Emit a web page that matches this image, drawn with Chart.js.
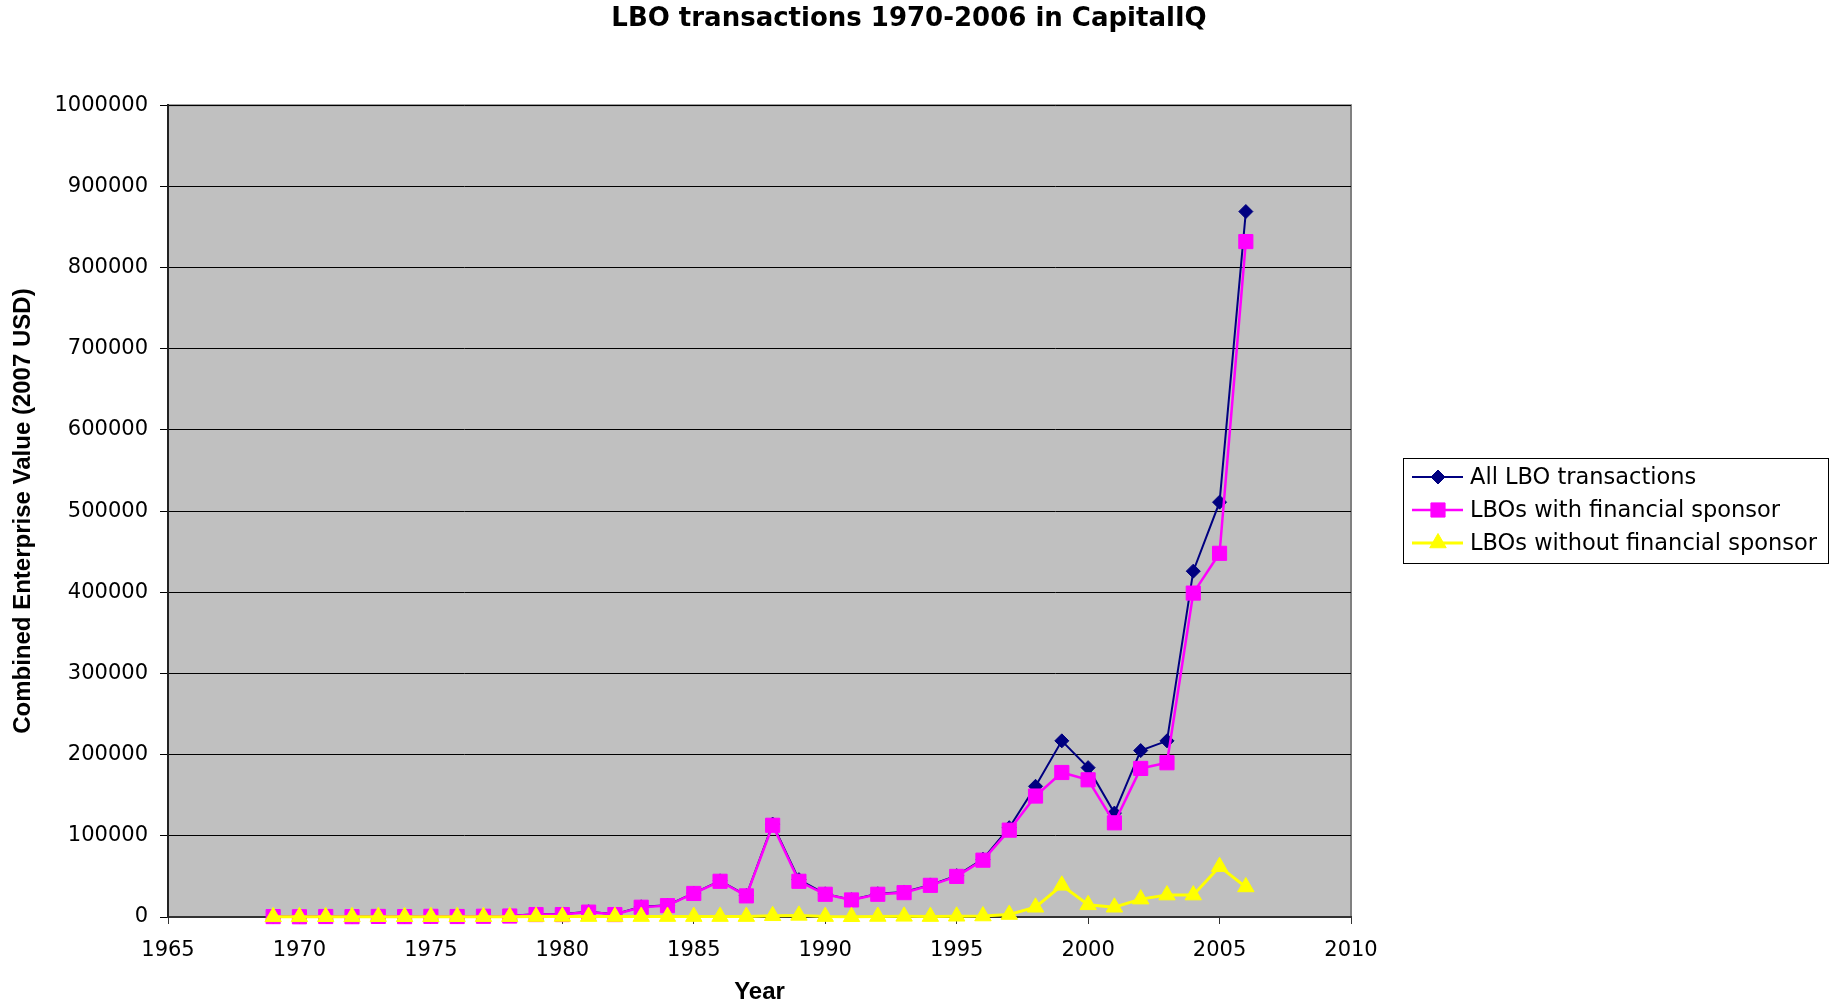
<!DOCTYPE html>
<html>
<head>
<meta charset="utf-8">
<title>LBO transactions 1970-2006 in CapitalIQ</title>
<script src="https://cdn.jsdelivr.net/npm/chart.js"></script>
<style>
    body { margin: 0; background: #fff; }
    #wrap { width: 1844px; height: 1008px; }
</style>
</head>
<body>
<div id="wrap"><canvas id="chart1" width="1844" height="1008"></canvas></div>
<script>
var years = [1969, 1970, 1971, 1972, 1973, 1974, 1975, 1976, 1977, 1978,
             1979, 1980, 1981, 1982, 1983, 1984, 1985, 1986, 1987, 1988,
             1989, 1990, 1991, 1992, 1993, 1994, 1995, 1996, 1997, 1998,
             1999, 2000, 2001, 2002, 2003, 2004, 2005, 2006];

var allLbo = [700, 500, 900, 600, 1000, 800, 1100, 900, 1300, 1600,
              3500, 3600, 6500, 3500, 12500, 14500, 29500, 44500, 26500, 114500,
              46000, 28500, 21300, 28600, 30800, 39500, 50900, 71200, 110000, 161000,
              217000, 184000, 128000, 205000, 217000, 426000, 511000, 869000];

var withSponsor = [500, 300, 600, 400, 700, 500, 800, 600, 900, 1200,
                   3000, 3000, 6000, 3000, 12000, 14000, 29000, 44000, 26000, 113000,
                   44000, 28000, 21000, 28000, 30000, 39000, 50000, 70000, 107000, 149000,
                   178000, 169000, 116000, 183000, 190000, 399000, 448000, 832000];

var withoutSponsor = [200, 200, 300, 200, 300, 300, 300, 300, 400, 400,
                      500, 600, 500, 500, 500, 500, 500, 500, 500, 1500,
                      2000, 500, 300, 600, 800, 500, 900, 1200, 3000, 12000,
                      39000, 15000, 12000, 22000, 27000, 27000, 62000, 37000];

var seriesNames = ['All LBO transactions', 'LBOs with financial sponsor', 'LBOs without financial sponsor'];
var xTicks = [1965, 1970, 1975, 1980, 1985, 1990, 1995, 2000, 2005, 2010];
var yTicks = [0, 100000, 200000, 300000, 400000, 500000, 600000, 700000, 800000, 900000, 1000000];

function points(values) {
    return years.map(function (y, i) { return {x: y, y: values[i]}; });
}

// grey plot area with a thin frame, like the spreadsheet original
var plotBackground = {
    id: 'plotBackground',
    beforeDraw: function (chart) {
        var a = chart.chartArea, ctx = chart.ctx;
        ctx.save();
        ctx.fillStyle = '#C0C0C0';
        ctx.fillRect(a.left, a.top, a.right - a.left, a.bottom - a.top);
        ctx.strokeStyle = '#808080';
        ctx.lineWidth = 2;
        ctx.beginPath();
        ctx.moveTo(a.left, a.top);
        ctx.lineTo(a.right, a.top);
        ctx.lineTo(a.right, a.bottom);
        ctx.stroke();
        ctx.restore();
    }
};

function drawMarker(ctx, style, x, y, r, color) {
    ctx.fillStyle = color;
    ctx.strokeStyle = color;
    ctx.lineWidth = 1;
    ctx.beginPath();
    if (style === 'rectRot') {
        ctx.moveTo(x - r, y); ctx.lineTo(x, y - r); ctx.lineTo(x + r, y); ctx.lineTo(x, y + r);
    } else if (style === 'rect') {
        var s = r * Math.SQRT1_2;
        ctx.rect(x - s, y - s, 2 * s, 2 * s);
    } else {
        ctx.moveTo(x, y - r);
        ctx.lineTo(x + r * 0.866, y + r * 0.5);
        ctx.lineTo(x - r * 0.866, y + r * 0.5);
    }
    ctx.closePath();
    ctx.fill();
    ctx.stroke();
}

// boxed legend on the right: a layout box so the title still centres over the whole canvas
var boxLegend = {
    id: 'boxLegend',
    beforeInit: function (chart) {
        var box = {
            position: 'right',
            weight: 10,
            fullSize: false,
            options: {},
            left: 0, top: 0, right: 0, bottom: 0, width: 0, height: 0,
            isHorizontal: function () { return false; },
            getPadding: function () { return {top: 0, left: 0, right: 0, bottom: 0}; },
            update: function (maxWidth, maxHeight) {
                this.width = 467;
                this.height = maxHeight;
            },
            draw: function () {
                var ctx = chart.ctx;
                var left = this.left + 52, top = 458, w = 425, h = 105;
                ctx.save();
                ctx.fillStyle = '#fff';
                ctx.fillRect(left, top, w, h);
                ctx.strokeStyle = '#000';
                ctx.lineWidth = 1;
                ctx.strokeRect(left + 0.5, top + 0.5, w, h);
                chart.data.datasets.forEach(function (ds, i) {
                    var cy = top + 19 + i * 33;
                    ctx.strokeStyle = ds.borderColor;
                    ctx.lineWidth = ds.borderWidth;
                    ctx.beginPath();
                    ctx.moveTo(left + 9, cy);
                    ctx.lineTo(left + 60, cy);
                    ctx.stroke();
                    drawMarker(ctx, ds.pointStyle, left + 35, cy, ds.pointRadius, ds.backgroundColor);
                    ctx.fillStyle = '#000';
                    ctx.font = '22.5px "DejaVu Sans"';
                    ctx.textAlign = 'left';
                    ctx.textBaseline = 'middle';
                    ctx.fillText(ds.label, left + 67, cy + 1);
                });
                ctx.restore();
            }
        };
        Chart.layouts.addBox(chart, box);
    }
};

var ctx = document.getElementById('chart1');
var chart = new Chart(ctx, {
    type: 'line',
    data: {
        datasets: [{
            label: seriesNames[0],
            data: points(allLbo),
            borderColor: '#000080',
            backgroundColor: '#000080',
            borderWidth: 2,
            pointStyle: 'rectRot',
            pointRadius: 7,
            pointBorderWidth: 1,
            clip: false,
            order: 2
        }, {
            label: seriesNames[1],
            data: points(withSponsor),
            borderColor: '#FF00FF',
            backgroundColor: '#FF00FF',
            borderWidth: 2.5,
            pointStyle: 'rect',
            pointRadius: 10,
            pointBorderWidth: 1,
            clip: false,
            order: 1
        }, {
            label: seriesNames[2],
            data: points(withoutSponsor),
            borderColor: '#FFFF00',
            backgroundColor: '#FFFF00',
            borderWidth: 3,
            pointStyle: 'triangle',
            pointRadius: 9.5,
            pointBorderWidth: 1,
            clip: false,
            order: 0
        }]
    },
    options: {
        responsive: false,
        animation: false,
        layout: { padding: { left: 0, right: 26, top: 0, bottom: 0 } },
        plugins: {
            legend: { display: false },
            tooltip: { enabled: false },
            title: {
                display: true,
                text: 'LBO transactions 1970-2006 in CapitalIQ',
                color: '#000',
                font: { family: '"DejaVu Sans"', size: 26, weight: 'bold' },
                padding: { top: 4, bottom: 70 }
            }
        },
        scales: {
            x: {
                type: 'linear',
                min: 1965,
                max: 2010,
                afterBuildTicks: function (axis) {
                    axis.ticks = xTicks.map(function (v) { return {value: v}; });
                },
                afterFit: function (axis) { axis.height = 91; },
                ticks: {
                    color: '#000',
                    font: { family: '"DejaVu Sans"', size: 21 },
                    padding: 14,
                    maxRotation: 0,
                    callback: function (v) { return String(v); }
                },
                grid: { drawOnChartArea: false, drawTicks: true, tickLength: 7, color: '#333' },
                border: { color: '#333', width: 2 },
                title: {
                    display: true,
                    text: 'Year',
                    color: '#000',
                    font: { family: '"Liberation Sans"', size: 24, weight: 'bold' },
                    padding: { top: 0, bottom: 1 }
                }
            },
            y: {
                min: 0,
                max: 1000000,
                afterBuildTicks: function (axis) {
                    axis.ticks = yTicks.map(function (v) { return {value: v}; });
                },
                afterFit: function (axis) { axis.width = 168; },
                ticks: {
                    color: '#000',
                    font: { family: '"DejaVu Sans"', size: 21 },
                    padding: 12,
                    callback: function (v) { return String(v); }
                },
                grid: { color: '#000', lineWidth: 1, tickLength: 8 },
                border: { color: '#222', width: 2 },
                title: {
                    display: true,
                    text: 'Combined Enterprise Value (2007 USD)',
                    color: '#000',
                    font: { family: '"Liberation Sans"', size: 24, weight: 'bold' },
                    padding: { top: 9, bottom: 0 }
                }
            }
        }
    },
    plugins: [plotBackground, boxLegend]
});
</script>
</body>
</html>
